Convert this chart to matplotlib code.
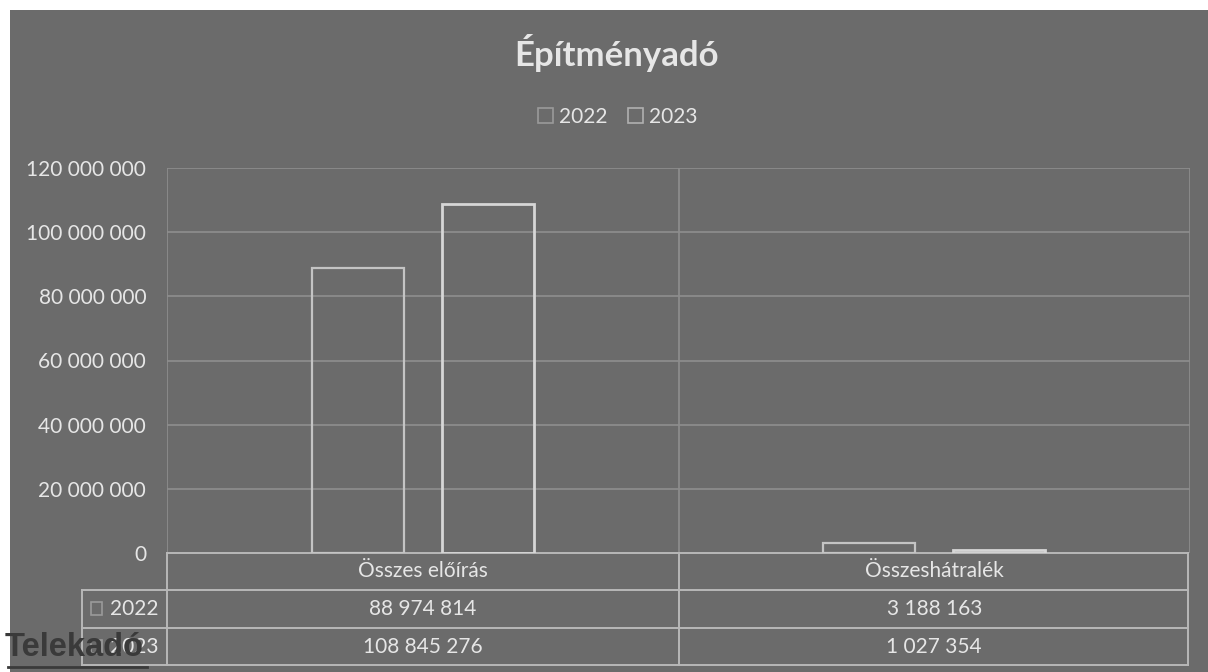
import matplotlib.pyplot as plt
import matplotlib.patches as mpatches
import numpy as np

# adatok
categories = ['Összes előírás', 'Összeshátralék']
years = ['2022', '2023']
values_2022 = [88974814, 3188163]
values_2023 = [108845276, 1027354]
yticks = [0, 20000000, 40000000, 60000000, 80000000, 100000000, 120000000]

bg = '#6b6b6b'
txt = '#e6e6e6'
grid = '#8e8e8e'
edge_2022 = '#c4c4c4'
edge_2023 = '#d6d6d6'
fs = 15


def fmt(v):
    return f'{v:,}'.replace(',', ' ')


plt.rcParams['font.family'] = ['Lato', 'DejaVu Sans']

fig = plt.figure(figsize=(12.08, 6.72), dpi=100, facecolor='white')
W, H = 1208, 672
# szürke háttér (szkennelt lap)
fig.patches.append(mpatches.Rectangle((10 / W, 0), 1, 1 - 10 / H, transform=fig.transFigure,
                                      facecolor=bg, edgecolor='none', zorder=-5))

ax = fig.add_axes([167 / W, 1 - 553 / H, (1190 - 167) / W, (553 - 168) / H])
ax.set_facecolor('none')

x = np.arange(len(categories))
w = 0.18
ax.bar(x - 0.127, values_2022, w, facecolor='none', edgecolor=edge_2022, linewidth=1.6, zorder=3)
ax.bar(x + 0.127, values_2023, w, facecolor='none', edgecolor=edge_2023, linewidth=2.0, zorder=3)

ax.set_xlim(-0.5, len(categories) - 0.5)
ax.set_ylim(0, 120000000)
ax.set_yticks(yticks)
ax.set_yticklabels([fmt(v) for v in yticks], color=txt, fontsize=fs)
ax.tick_params(axis='y', length=0, pad=15)
ax.set_xticks([])
for s in ax.spines.values():
    s.set_visible(False)
for t in yticks[1:]:
    ax.axhline(t, color=grid, linewidth=1.2, zorder=1)
for b in [-0.5, 0.5, 1.5]:
    ax.axvline(b, color=grid, linewidth=1.2, zorder=1)

# adattábla a tengely alatt
tr = ax.transAxes
row_h = [-0.096, -0.195, -0.291]
lab_x = (82 - 167) / 1023
lc = '#b8b8b8'
ax.plot([0, 0.9985], [0, 0], color=lc, lw=1.4, transform=tr, clip_on=False)
ax.plot([lab_x, 0.9985], [row_h[0]] * 2, color=lc, lw=1.4, transform=tr, clip_on=False)
ax.plot([lab_x, 0.9985], [row_h[1]] * 2, color=lc, lw=1.4, transform=tr, clip_on=False)
ax.plot([lab_x, 0.9985], [row_h[2]] * 2, color=lc, lw=1.4, transform=tr, clip_on=False)
ax.plot([0, 0], [0, row_h[2]], color=lc, lw=1.4, transform=tr, clip_on=False)
ax.plot([0.5, 0.5], [0, row_h[2]], color=lc, lw=1.4, transform=tr, clip_on=False)
ax.plot([0.9985, 0.9985], [0, row_h[2]], color=lc, lw=1.4, transform=tr, clip_on=False)
ax.plot([lab_x, lab_x], [row_h[0], row_h[2]], color=lc, lw=1.4, transform=tr, clip_on=False)

for i, c in enumerate(categories):
    cx = (i + 0.5) / len(categories)
    ax.text(cx, row_h[0] / 2, c, transform=tr, ha='center', va='center', color=txt, fontsize=fs)
    ax.text(cx, (row_h[0] + row_h[1]) / 2, fmt(values_2022[i]), transform=tr,
            ha='center', va='center', color=txt, fontsize=fs)
    ax.text(cx, (row_h[1] + row_h[2]) / 2, fmt(values_2023[i]), transform=tr,
            ha='center', va='center', color=txt, fontsize=fs)

for j, y in enumerate(years):
    yc = ((row_h[0] + row_h[1]) / 2) if j == 0 else ((row_h[1] + row_h[2]) / 2)
    ax.text(-0.008, yc, y, transform=tr, ha='right', va='center', color=txt, fontsize=fs)
    ax.add_patch(mpatches.Rectangle((lab_x + 0.009, yc - 0.016), 0.011, 0.034, transform=tr,
                                    facecolor='none', edgecolor='#9a9a9a', lw=1.2, clip_on=False))

# cím és jelmagyarázat
fig.text(616 / W, 1 - 53 / H, 'Építményadó', ha='center', va='center', color=txt,
         fontsize=25, fontweight='bold')
handles = [mpatches.Patch(facecolor='none', edgecolor='#9a9a9a', lw=1.2, label=years[0]),
           mpatches.Patch(facecolor='none', edgecolor='#b0b0b0', lw=1.2, label=years[1])]
fig.legend(handles=handles, loc='center', bbox_to_anchor=(618 / W, 1 - 117 / H), ncol=2,
           frameon=False, fontsize=fs, labelcolor=txt, handlelength=0.7, handleheight=0.7,
           handletextpad=0.3, columnspacing=1.0)

# szkennelt oldal felirata
fig.text(5 / W, 1 - 648 / H, 'Telekadó', ha='left', va='center', color='#3a3a3a',
         fontsize=23.5, fontweight='bold', family=['Liberation Sans', 'DejaVu Sans'], zorder=5)
fig.lines.append(plt.Line2D([8 / W, 147 / W], [1 - 667 / H] * 2, transform=fig.transFigure,
                            color='#3a3a3a', lw=2, zorder=5))

fig.savefig('out.png', dpi=100, facecolor=fig.get_facecolor())
